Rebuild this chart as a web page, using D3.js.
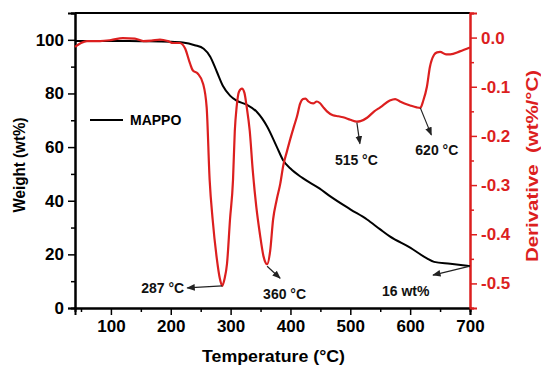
<!DOCTYPE html>
<html>
<head>
<meta charset="utf-8">
<script src="https://cdnjs.cloudflare.com/ajax/libs/d3/7.8.5/d3.min.js"></script>
<style>
body{margin:0;background:#fff}
svg{display:block;font-family:"Liberation Sans",Arial,sans-serif;font-weight:bold}
</style>
</head>
<body>
<script>

// TGA weight curve (black)
var tgaTemp = [40, 100, 150, 200, 220, 240, 255, 266, 277, 287, 299, 310, 327, 344, 361, 377, 388, 400, 420, 449, 466, 500, 528, 550, 566, 600, 628, 640, 667, 700];
var tgaWeight = [99.6, 99.6, 99.5, 99.3, 99.0, 98.0, 96.7, 93.7, 88.1, 82.9, 79.2, 77.3, 75.8, 73.1, 67.7, 60.2, 55.0, 52.0, 48.5, 44.5, 41.7, 36.8, 33.0, 29.3, 26.7, 22.5, 18.5, 17.2, 16.5, 15.6];

// DTG derivative curve (red)
var dtgTemp = [40, 50, 60, 82, 100, 120, 140, 154, 168, 182, 195, 204, 215, 224, 232, 237, 245, 254, 260, 265, 270, 277, 282, 286, 290, 294, 299, 304, 307, 310, 314, 319, 323, 327, 332, 337, 343, 349, 355, 361, 366, 371, 377, 383, 388, 394, 400, 406, 411, 416, 421, 425, 430, 438, 444, 449, 455, 461, 471, 480, 488, 500, 511, 517, 528, 540, 550, 566, 575, 583, 600, 611, 617, 622, 628, 633, 640, 645, 650, 660, 667, 683, 700];
var dtgDeriv = [-0.019, -0.011, -0.007, -0.007, -0.005, -0.001, -0.002, -0.007, -0.006, -0.004, -0.007, -0.011, -0.011, -0.022, -0.052, -0.067, -0.073, -0.094, -0.142, -0.29, -0.37, -0.45, -0.49, -0.505, -0.49, -0.46, -0.37, -0.29, -0.19, -0.142, -0.11, -0.104, -0.112, -0.142, -0.19, -0.27, -0.345, -0.40, -0.445, -0.461, -0.435, -0.37, -0.33, -0.297, -0.26, -0.232, -0.205, -0.18, -0.16, -0.135, -0.125, -0.124, -0.13, -0.134, -0.13, -0.133, -0.142, -0.15, -0.158, -0.16, -0.162, -0.167, -0.171, -0.17, -0.163, -0.15, -0.142, -0.128, -0.125, -0.13, -0.138, -0.142, -0.143, -0.128, -0.1, -0.06, -0.035, -0.03, -0.029, -0.034, -0.034, -0.028, -0.02];

var xTicks = [100, 200, 300, 400, 500, 600, 700];
var yLeftTicks = [0, 20, 40, 60, 80, 100];
var yRightTicks = [0.0, -0.1, -0.2, -0.3, -0.4, -0.5];

// peak labels
var peakTemps = [286, 361, 511, 617];
var peakValues = [-0.505, -0.461, -0.171, -0.143];
var peakLabels = ["287 °C", "360 °C", "515 °C", "620 °C"];
var residue = {t: 700, w: 15.6, label: "16 wt%"};

var W = 541, H = 367,
    m = {top: 13, right: 71, bottom: 59, left: 75},
    w = W - m.left - m.right,
    h = H - m.top - m.bottom,
    red = "#dc1f1f";

var svg = d3.select("body").append("svg").attr("width", W).attr("height", H);

var defs = svg.append("defs");
defs.append("marker").attr("id", "arr")
    .attr("viewBox", "0 0 10 10").attr("refX", 9).attr("refY", 5)
    .attr("markerWidth", 7).attr("markerHeight", 7).attr("orient", "auto")
    .append("path").attr("d", "M0,1 L10,5 L0,9 z").attr("fill", "#222");

var g = svg.append("g").attr("transform", "translate(" + m.left + "," + m.top + ")");

var x = d3.scaleLinear().domain([40, 700]).range([0, w]);
var yL = d3.scaleLinear().domain([0, 110]).range([h, 0]);
var yR = d3.scaleLinear().domain([-0.55, 0.05]).range([h, 0]);

// frame top
g.append("line").attr("x1", 0).attr("x2", w).attr("y1", 0).attr("y2", 0)
    .attr("stroke", "#000").attr("stroke-width", 2);

function styleAxis(sel, col, size) {
    sel.select(".domain").attr("stroke", col).attr("stroke-width", 2);
    sel.selectAll(".tick line").attr("stroke", col).attr("stroke-width", 1.5);
    sel.selectAll("text").attr("fill", col).style("font-size", size + "px").style("font-weight", "bold");
}

// minor ticks
g.append("g").attr("transform", "translate(0," + h + ")")
    .call(d3.axisBottom(x).tickValues(d3.range(50, 701, 100)).tickSize(4).tickFormat(""))
    .call(function (s) { styleAxis(s, "#000", 16); });
g.append("g")
    .call(d3.axisLeft(yL).tickValues(d3.range(10, 111, 20)).tickSize(4).tickFormat(""))
    .call(function (s) { styleAxis(s, "#000", 16); });
g.append("g").attr("transform", "translate(" + w + ",0)")
    .call(d3.axisRight(yR).tickValues([0.05, -0.05, -0.15, -0.25, -0.35, -0.45, -0.55]).tickSize(4).tickFormat(""))
    .call(function (s) { styleAxis(s, red, 16); });

// major ticks
g.append("g").attr("transform", "translate(0," + h + ")")
    .call(d3.axisBottom(x).tickValues(xTicks).tickSize(7).tickPadding(5).tickFormat(d3.format("d")))
    .call(function (s) { styleAxis(s, "#000", 17); });

g.append("g")
    .call(d3.axisLeft(yL).tickValues(yLeftTicks).tickSize(7).tickPadding(4).tickFormat(d3.format("d")))
    .call(function (s) { styleAxis(s, "#000", 17); });

g.append("g").attr("transform", "translate(" + w + ",0)")
    .call(d3.axisRight(yR).tickValues(yRightTicks).tickSize(7).tickPadding(4)
        .tickFormat(function (d) { return d.toFixed(1).replace("\u2212", "-"); }))
    .call(function (s) { styleAxis(s, red, 17); });

// curves
var tga = tgaTemp.map(function (t, i) { return [t, tgaWeight[i]]; });
var dtg = dtgTemp.map(function (t, i) { return [t, dtgDeriv[i]]; });

g.append("path").datum(tga)
    .attr("fill", "none").attr("stroke", "#000").attr("stroke-width", 2)
    .attr("d", d3.line().x(function (d) { return x(d[0]); }).y(function (d) { return yL(d[1]); }).curve(d3.curveMonotoneX));

g.append("path").datum(dtg)
    .attr("fill", "none").attr("stroke", red).attr("stroke-width", 2.2)
    .attr("d", d3.line().x(function (d) { return x(d[0]); }).y(function (d) { return yR(d[1]); }).curve(d3.curveMonotoneX));

// annotations: arrow offsets and text offsets in px, relative to the marked point
var px = peakTemps.map(function (t) { return x(t); });
var py = peakValues.map(function (v) { return yR(v); });
var arrows = [
    {x1: px[0], y1: py[0], dx: -35, dy: 2, tx: -38, ty: 7, anchor: "end", label: peakLabels[0]},
    {x1: px[1], y1: py[1] + 2, dx: 13, dy: 12, tx: -4, ty: 33, anchor: "start", label: peakLabels[1]},
    {x1: px[2], y1: py[2] + 1, dx: 3, dy: 21, tx: -22, ty: 42, anchor: "start", label: peakLabels[2]},
    {x1: px[3], y1: py[3], dx: 11, dy: 27, tx: -5, ty: 47, anchor: "start", label: peakLabels[3]},
    {x1: x(residue.t), y1: yL(residue.w), dx: -37, dy: 9, tx: -88, ty: 30, anchor: "start", label: residue.label}
];

arrows.forEach(function (a) {
    g.append("line").attr("x1", a.x1).attr("y1", a.y1).attr("x2", a.x1 + a.dx).attr("y2", a.y1 + a.dy)
        .attr("stroke", "#222").attr("stroke-width", 1.2).attr("marker-end", "url(#arr)");
    g.append("text").attr("x", a.x1 + a.tx).attr("y", a.y1 + a.ty).attr("text-anchor", a.anchor)
        .style("font-size", "14px").attr("fill", "#111").text(a.label);
});

// legend
g.append("line").attr("x1", 15).attr("x2", 48).attr("y1", 107).attr("y2", 107)
    .attr("stroke", "#000").attr("stroke-width", 2);
g.append("text").attr("x", 55).attr("y", 112).style("font-size", "14px").text("MAPPO");

// axis titles
svg.append("text").attr("x", 273.5).attr("y", 362).attr("text-anchor", "middle")
    .attr("textLength", 143).attr("lengthAdjust", "spacingAndGlyphs")
    .style("font-size", "17px").text("Temperature (°C)");
svg.append("text").attr("transform", "translate(25,165) rotate(-90)").attr("text-anchor", "middle")
    .attr("textLength", 95).attr("lengthAdjust", "spacingAndGlyphs")
    .style("font-size", "16px").text("Weight (wt%)");
svg.append("text").attr("transform", "translate(538,166) rotate(-90)").attr("text-anchor", "middle")
    .attr("textLength", 192).attr("lengthAdjust", "spacingAndGlyphs")
    .style("font-size", "16px").style("white-space", "pre").attr("fill", red).text("Derivative  (wt%/°C)");

</script>
</body>
</html>
